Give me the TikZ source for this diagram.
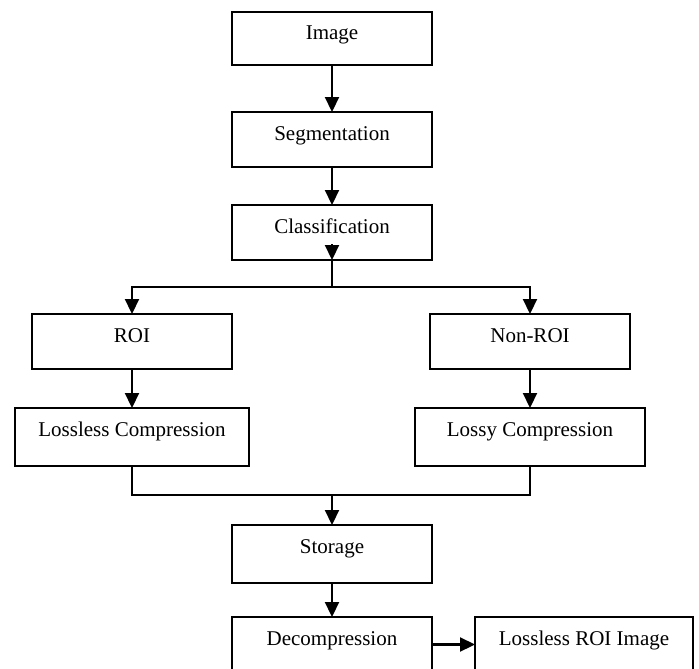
\documentclass[tikz,border=0pt]{standalone}
\usepackage{fontspec}
\setmainfont{Liberation Serif}
\usetikzlibrary{positioning,arrows.meta}

\begin{document}
\begin{tikzpicture}[
    x=1pt, y=1pt,
    >={Triangle[length=15pt,width=14pt]},
    stagebox/.style={draw, line width=1.8pt, outer sep=0pt, inner ysep=0pt,
                     minimum width=200pt, text height=28pt, text depth=27pt,
                     font=\fontsize{21}{25}\selectfont},
    tallbox/.style={stagebox, text depth=30pt},
    flow/.style={line width=2.2pt},
  ]
    \useasboundingbox (0,0) rectangle (699,-669);
    \clip (0,0) rectangle (699,-669);
    % central column
    \node[stagebox, text depth=25pt, anchor=north] (img) at (332,-12) {Image};
    \node[stagebox, below=47pt of img] (seg) {Segmentation};
    \node[stagebox, below=38pt of seg] (cls) {Classification};
    % the two branches
    \node[stagebox, anchor=north] (roi)  at (132,-314) {ROI};
    \node[stagebox, anchor=north] (nroi) at (530,-314) {Non-ROI};
    \node[tallbox, minimum width=234pt, below=39pt of roi]  (lsl) {Lossless Compression};
    \node[tallbox, minimum width=230pt, below=39pt of nroi] (lsy) {Lossy Compression};
    % back to one column
    \node[tallbox, anchor=north] (sto) at (332,-525) {Storage};
    \node[stagebox, below=34pt of sto] (dec) {Decompression};
    \node[stagebox, minimum width=218pt, right=43pt of dec] (lri) {Lossless ROI Image};
    \draw[flow, ->] (img) -- (seg);
    \draw[flow, ->] (seg) -- (cls);
    \draw[flow, ->] ([yshift=16pt]cls.south) -- (cls.south);
    \draw[flow] (cls.south) -- ++(0,-27) coordinate (split);
    \draw[flow, ->] (split) -| (roi);
    \draw[flow, ->] (split) -| (nroi);
    \draw[flow, ->] (roi) -- (lsl);
    \draw[flow, ->] (nroi) -- (lsy);
    \coordinate (merge) at (332,-495);
    \draw[flow] (lsl) |- (merge) -| (lsy);
    \draw[flow, ->] (merge) -- (sto);
    \draw[flow, ->] (sto) -- (dec);
    \draw[flow, ->] (dec) -- (lri);
\end{tikzpicture}
\end{document}
